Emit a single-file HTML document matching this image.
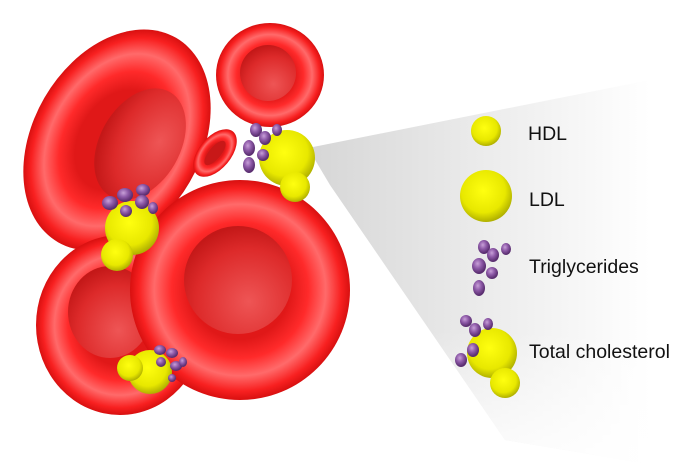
<!DOCTYPE html>
<html><head><meta charset="utf-8"><style>
html,body{margin:0;padding:0;background:#fff;width:700px;height:466px;overflow:hidden}
svg{display:block}
text{font-family:"Liberation Sans",Arial,sans-serif;font-size:19.5px;fill:#111}
</style></head><body>
<svg width="700" height="466" viewBox="0 0 700 466" xmlns="http://www.w3.org/2000/svg">
<defs>
<linearGradient id="wedge" gradientUnits="userSpaceOnUse" x1="310" y1="0" x2="650" y2="0">
<stop offset="0" stop-color="#d6d6d6"/><stop offset="0.5" stop-color="#ebebeb"/><stop offset="1" stop-color="#fff"/>
</linearGradient>
<linearGradient id="wfade" gradientUnits="userSpaceOnUse" x1="0" y1="330" x2="0" y2="450">
<stop offset="0" stop-color="#fff" stop-opacity="0"/><stop offset="1" stop-color="#fff" stop-opacity="0.8"/>
</linearGradient>
<radialGradient id="ring" cx="0.5" cy="0.5" r="0.5">
<stop offset="0.45" stop-color="#e01818"/><stop offset="0.62" stop-color="#ff2a2a"/><stop offset="0.78" stop-color="#ff6a6a"/><stop offset="0.92" stop-color="#f82020"/><stop offset="1" stop-color="#d81010"/>
</radialGradient>
<radialGradient id="inner" cx="0.6" cy="0.7" r="0.7">
<stop offset="0" stop-color="#ee5555"/><stop offset="0.7" stop-color="#dd2a2a"/><stop offset="1" stop-color="#c41818"/>
</radialGradient>
<radialGradient id="yel" cx="0.45" cy="0.4" r="0.6">
<stop offset="0" stop-color="#ffff10"/><stop offset="0.7" stop-color="#e8e800"/><stop offset="1" stop-color="#b0b000"/>
</radialGradient>
<radialGradient id="pur" cx="0.4" cy="0.35" r="0.6">
<stop offset="0" stop-color="#c8a0d8"/><stop offset="0.5" stop-color="#8e5aa8"/><stop offset="1" stop-color="#5a2e70"/>
</radialGradient>
</defs>
<polygon points="308,148 660,78 660,466 505,440 330,185" fill="url(#wedge)"/>
<polygon points="308,148 660,78 660,466 505,440 330,185" fill="url(#wfade)"/>
<!-- cells -->
<g transform="translate(117,140) rotate(-60)"><ellipse rx="118" ry="84" fill="url(#ring)"/><ellipse cx="8" cy="22" rx="60" ry="40" fill="url(#inner)"/></g>
<ellipse cx="270" cy="75" rx="54" ry="52" fill="url(#ring)"/><circle cx="268" cy="73" r="28" fill="url(#inner)"/>
<g transform="translate(215,153) rotate(-50)"><ellipse rx="28" ry="16" fill="url(#ring)"/><ellipse rx="15" ry="6" fill="#c81818"/></g>
<ellipse cx="120" cy="325" rx="84" ry="90" fill="url(#ring)"/><ellipse cx="110" cy="312" rx="42" ry="46" fill="url(#inner)"/>
<circle cx="240" cy="290" r="110" fill="url(#ring)"/><circle cx="238" cy="280" r="54" fill="url(#inner)"/>
<!-- particles -->
<g fill="url(#yel)">
<circle cx="132" cy="228" r="27"/><circle cx="117" cy="255" r="16"/>
<circle cx="287" cy="158" r="28"/><circle cx="295" cy="187" r="15"/>
<circle cx="150" cy="372" r="22"/><circle cx="130" cy="368" r="13"/>
<circle cx="486" cy="131" r="15"/><circle cx="486" cy="196" r="26"/>
<circle cx="492" cy="353" r="25"/><circle cx="505" cy="383" r="15"/>
</g>
<g fill="url(#pur)">
<ellipse cx="125" cy="195" rx="8" ry="7"/><ellipse cx="110" cy="203" rx="8" ry="7"/><ellipse cx="143" cy="190" rx="7" ry="6"/><ellipse cx="142" cy="202" rx="7" ry="7"/><ellipse cx="126" cy="211" rx="6" ry="6"/><ellipse cx="153" cy="208" rx="5" ry="6"/>
<ellipse cx="256" cy="130" rx="6" ry="7"/><ellipse cx="265" cy="138" rx="6" ry="7"/><ellipse cx="277" cy="130" rx="5" ry="6"/><ellipse cx="249" cy="148" rx="6" ry="8"/><ellipse cx="263" cy="155" rx="6" ry="6"/><ellipse cx="249" cy="165" rx="6" ry="8"/>
<ellipse cx="160" cy="350" rx="6" ry="5"/><ellipse cx="172" cy="353" rx="6" ry="5"/><ellipse cx="161" cy="362" rx="5" ry="5"/><ellipse cx="176" cy="366" rx="6" ry="5"/><ellipse cx="183" cy="362" rx="4" ry="5"/><ellipse cx="172" cy="378" rx="4" ry="4"/>
<ellipse cx="484" cy="247" rx="6" ry="7"/><ellipse cx="493" cy="255" rx="6" ry="7"/><ellipse cx="506" cy="249" rx="5" ry="6"/><ellipse cx="479" cy="266" rx="7" ry="8"/><ellipse cx="492" cy="273" rx="6" ry="6"/><ellipse cx="479" cy="288" rx="6" ry="8"/>
<ellipse cx="466" cy="321" rx="6" ry="6"/><ellipse cx="475" cy="330" rx="6" ry="7"/><ellipse cx="488" cy="324" rx="5" ry="6"/><ellipse cx="473" cy="350" rx="6" ry="7"/><ellipse cx="461" cy="360" rx="6" ry="7"/>
</g>
<text x="528" y="140">HDL</text>
<text x="529" y="206">LDL</text>
<text x="529" y="273">Triglycerides</text>
<text x="529" y="358">Total cholesterol</text>
</svg>
</body></html>
